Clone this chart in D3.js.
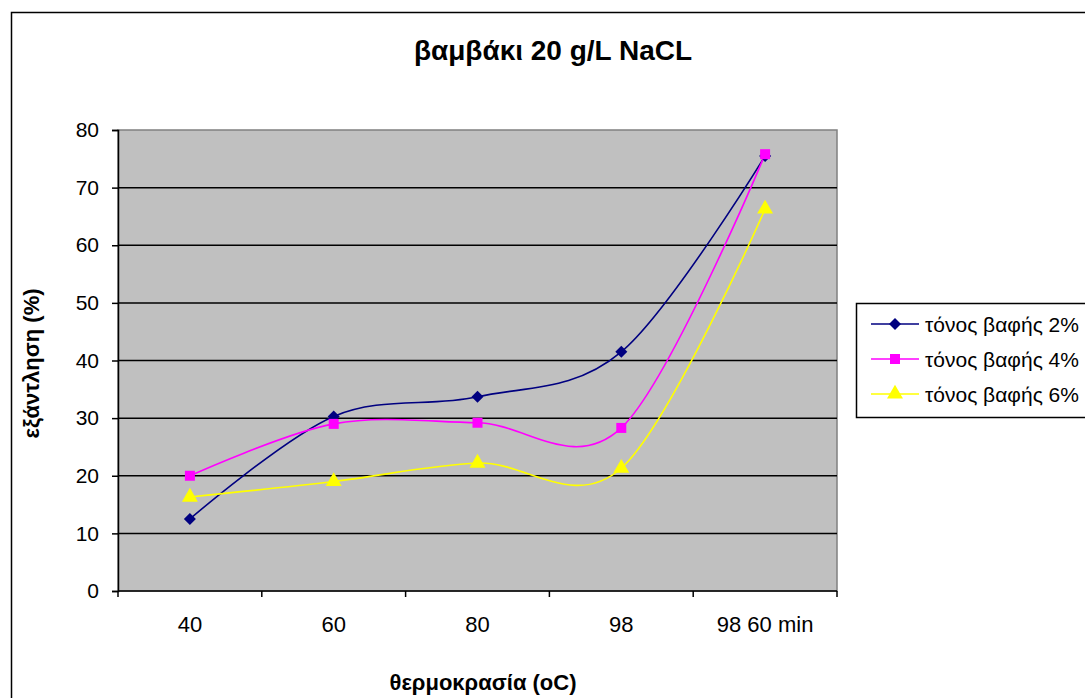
<!DOCTYPE html>
<html>
<head>
<meta charset="utf-8">
<script src="https://cdn.jsdelivr.net/npm/d3@7"></script>
<style>
  body { margin: 0; background: #fff; }
  svg { display: block; font-family: "Liberation Sans", Arial, sans-serif; }
</style>
</head>
<body>
<svg id="chart" width="1085" height="698"></svg>
<script>
// Chart data
var categories = ['40', '60', '80', '98', '98 60 min'];
var dye2 = [12.5, 30.3, 33.7, 41.5, 75.5];
var dye4 = [20.0, 29.0, 29.2, 28.3, 75.8];
var dye6 = [16.3, 19.0, 22.2, 21.3, 66.3];
var seriesNames = ['τόνος βαφής 2%', 'τόνος βαφής 4%', 'τόνος βαφής 6%'];
var yTicks = [0, 10, 20, 30, 40, 50, 60, 70, 80];

// diamond = square turned by 45 degrees, like the Excel marker
var series = [
  { name: seriesNames[0], values: dye2, color: '#000080', marker: d3.symbolSquare, size: 72, rot: 45 },
  { name: seriesNames[1], values: dye4, color: '#FF00FF', marker: d3.symbolSquare, size: 100, rot: 0 },
  { name: seriesNames[2], values: dye6, color: '#FFFF00', marker: d3.symbolTriangle, size: 110, rot: 0 }
];

var svg = d3.select('#chart');

// outer chart border
svg.append('rect')
  .attr('x', 11.5).attr('y', 12.5)
  .attr('width', 1100).attr('height', 700)
  .attr('fill', 'none').attr('stroke', '#000').attr('stroke-width', 1.5);

// plot area
var plotL = 118, plotT = 130, plotR = 837, plotB = 591;

var x = d3.scaleBand().domain(categories).range([plotL, plotR]);
var y = d3.scaleLinear().domain([0, 80]).range([plotB, plotT]);

svg.append('rect')
  .attr('x', plotL).attr('y', plotT)
  .attr('width', plotR - plotL).attr('height', plotB - plotT)
  .attr('fill', '#C0C0C0').attr('stroke', '#808080').attr('stroke-width', 1.5);

// gridlines
svg.append('g')
  .selectAll('line')
  .data(yTicks.filter(function(t){ return t > 0 && t < 80; }))
  .enter().append('line')
  .attr('x1', plotL).attr('x2', plotR)
  .attr('y1', function(d){ return y(d); })
  .attr('y2', function(d){ return y(d); })
  .attr('stroke', '#000').attr('stroke-width', 1.5);

// y axis
var yAxis = svg.append('g')
  .attr('transform', 'translate(' + plotL + ',0)')
  .call(d3.axisLeft(y).tickValues(yTicks).tickSize(6).tickPadding(13));
yAxis.selectAll('text').attr('font-size', 21).attr('fill', '#000')
  .attr('font-family', '"Liberation Sans", Arial, sans-serif');
yAxis.selectAll('line').attr('stroke', '#000').attr('stroke-width', 1.5);
yAxis.select('.domain').attr('stroke', '#000').attr('stroke-width', 1.5);

// x axis: ticks sit between categories
var xAxis = svg.append('g')
  .attr('transform', 'translate(0,' + plotB + ')');
xAxis.append('line')
  .attr('x1', plotL).attr('x2', plotR)
  .attr('stroke', '#000').attr('stroke-width', 1.5);
var edges = categories.map(function(c){ return x(c); }).concat([plotR]);
xAxis.selectAll('.tick')
  .data(edges)
  .enter().append('line')
  .attr('x1', function(d){ return d; }).attr('x2', function(d){ return d; })
  .attr('y1', 0).attr('y2', 6)
  .attr('stroke', '#000').attr('stroke-width', 1.5);
xAxis.selectAll('.lbl')
  .data(categories)
  .enter().append('text')
  .attr('x', function(d){ return x(d) + x.bandwidth() / 2; })
  .attr('y', 41)
  .attr('text-anchor', 'middle')
  .attr('font-size', 22)
  .text(function(d){ return d; });

// series lines (smoothed like the original)
var line = d3.line()
  .x(function(d, i){ return x(categories[i]) + x.bandwidth() / 2; })
  .y(function(d){ return y(d); })
  .curve(d3.curveCardinal.tension(0));

series.forEach(function(s){
  svg.append('path')
    .datum(s.values)
    .attr('d', line)
    .attr('fill', 'none')
    .attr('stroke', s.color)
    .attr('stroke-width', 1.6);
});

series.forEach(function(s){
  svg.append('g').selectAll('path')
    .data(s.values)
    .enter().append('path')
    .attr('d', d3.symbol().type(s.marker).size(s.size))
    .attr('transform', function(d, i){
      return 'translate(' + (x(categories[i]) + x.bandwidth() / 2) + ',' + y(d) + ') rotate(' + s.rot + ')';
    })
    .attr('fill', s.color);
});

// title and axis labels
svg.append('text')
  .attr('x', 553).attr('y', 60)
  .attr('text-anchor', 'middle')
  .attr('font-size', 28).attr('font-weight', 'bold')
  .text('βαμβάκι 20 g/L NaCL');

svg.append('text')
  .attr('transform', 'translate(39,' + ((plotT + plotB) / 2 + 3) + ') rotate(-90)')
  .attr('text-anchor', 'middle')
  .attr('font-size', 22).attr('font-weight', 'bold')
  .text('εξάντληση (%)');

svg.append('text')
  .attr('x', 483).attr('y', 690)
  .attr('text-anchor', 'middle')
  .attr('font-size', 22).attr('font-weight', 'bold')
  .text('θερμοκρασία (oC)');

// legend
var legend = svg.append('g');
legend.append('rect')
  .attr('x', 856.5).attr('y', 303.5)
  .attr('width', 240).attr('height', 114)
  .attr('fill', '#fff').attr('stroke', '#000').attr('stroke-width', 1.5);

series.forEach(function(s, i){
  var ly = 324 + i * 35;
  legend.append('line')
    .attr('x1', 871).attr('x2', 919)
    .attr('y1', ly).attr('y2', ly)
    .attr('stroke', s.color).attr('stroke-width', 1.6);
  legend.append('path')
    .attr('d', d3.symbol().type(s.marker).size(s.size))
    .attr('transform', 'translate(895,' + ly + ') rotate(' + s.rot + ')')
    .attr('fill', s.color);
  legend.append('text')
    .attr('x', 925).attr('y', ly + 8)
    .attr('font-size', 21)
    .text(s.name);
});
</script>
</body>
</html>
